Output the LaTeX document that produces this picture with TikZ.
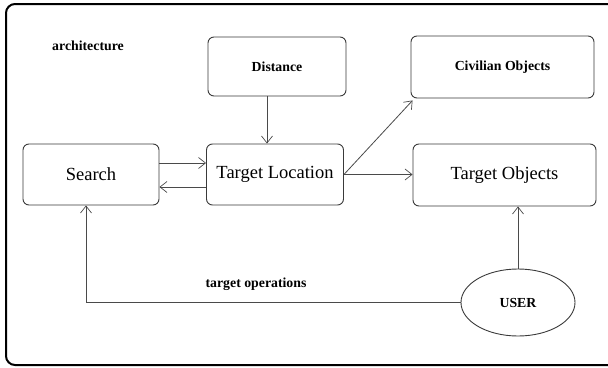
\documentclass[tikz,border=0pt]{standalone}
\usepackage{fontspec}
\setmainfont{Liberation Serif}
\usetikzlibrary{arrows.meta,shapes.geometric}
\definecolor{boxline}{HTML}{3A3A3A}
\definecolor{arrline}{HTML}{4A4A4A}
\tikzset{
  box/.style={draw=boxline, line width=0.9pt, rounded corners=6pt, inner sep=0pt},
  bigtxt/.style={font=\fontsize{18.5}{20}\selectfont},
  smalltxt/.style={font=\fontsize{13.8}{16}\selectfont\bfseries},
  conn/.style={draw=arrline, line width=0.8pt},
  arr/.style={conn, -{Straight Barb[length=7pt,width=11pt,line width=0.7pt]}},
}
\begin{document}
\begin{tikzpicture}[x=1pt,y=-1pt]
\useasboundingbox (0,0) rectangle (608,367);
\begin{scope}
\clip (0,0) rectangle (608,367);
\draw[black, line width=2pt, rounded corners=9pt] (6,4) rectangle (640,365);
\end{scope}
\node[smalltxt] (arch) at (88,46) {architecture};
\node[box, smalltxt, minimum width=138pt, minimum height=59pt] (dist) at (277,66.5) {Distance};
\node[box, smalltxt, minimum width=183pt, minimum height=62pt] (civ) at (502.5,67) {Civilian Objects};
\node[box, bigtxt, minimum width=136pt, minimum height=61pt] (search) at (91,174.5) {Search};
\node[box, bigtxt, minimum width=137pt, minimum height=61pt] (tl) at (275,174.5) {Target Location};
\node[box, bigtxt, minimum width=183pt, minimum height=62pt] (tobj) at (504.5,175) {Target Objects};
\node[draw=boxline, line width=0.9pt, ellipse, inner sep=0pt, minimum width=114pt, minimum height=67pt, smalltxt] (user) at (518,302.5) {USER};
\node[smalltxt] (tops) at (256,284) {target operations};
% connectors
\draw[arr] ([xshift=-10pt]dist.south) -- ([xshift=-10pt]dist.south |- tl.north);
\draw[arr] ([yshift=11.5pt]search.east) -- ([yshift=11.5pt]search.east -| tl.west);
\draw[arr] ([yshift=-12.5pt]tl.west) -- ([yshift=-12.5pt]tl.west -| search.east);
\draw[arr] (tl.east) -- (tobj.west |- tl.east);
\draw[arr] (tl.east) -- ([xshift=2pt,yshift=-2pt]civ.south west);
\draw[arr] (user.north) -- (user.north |- tobj.south);
\draw[arr] (user.west) -| ([xshift=-5pt]search.south);
\end{tikzpicture}
\end{document}
